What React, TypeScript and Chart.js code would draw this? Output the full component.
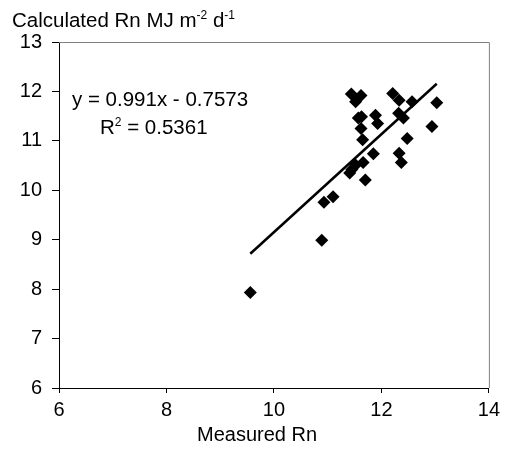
import React, { useEffect, useRef } from "react";
import { Chart, registerables } from "chart.js";

Chart.register(...registerables);

// Measured Rn (x) and calculated Rn (y), MJ m-2 d-1
const measuredRn = [
  9.56, 10.89, 10.93, 11.1, 11.41, 11.45, 11.52, 11.66, 11.7, 11.85,
  12.33, 12.37, 11.44, 11.62, 11.52, 12.21, 12.33, 12.57, 13.03, 11.57,
  11.63, 11.62, 11.65, 11.89, 11.93, 12.32, 12.41, 12.94, 12.48,
];
const calculatedRn = [
  7.93, 8.99, 9.76, 9.87, 10.35, 10.42, 10.51, 10.56, 10.21, 10.74,
  10.75, 10.56, 11.95, 11.92, 11.79, 11.96, 11.82, 11.79, 11.77, 11.46,
  11.49, 11.25, 11.02, 11.52, 11.35, 11.56, 11.46, 11.29, 11.05,
];

// Trend line as printed on the chart
const trendSlope = 0.991;
const trendIntercept = -0.7573;
const equationText = "y = 0.991x - 0.7573";
const r2Value = "0.5361";

const xRange = [6, 14];
const yRange = [6, 13];
const xStep = 2;
const yStep = 1;

const xTitle = "Measured Rn";
const yTitleRuns = [
  { t: "Calculated Rn MJ m", sup: false },
  { t: "-2", sup: true },
  { t: " d", sup: false },
  { t: "-1", sup: true },
];

const FONT = '"Liberation Sans", Arial, sans-serif';

export default function App() {
  const ref = useRef<HTMLCanvasElement | null>(null);

  useEffect(() => {
    if (!ref.current) return;
    const points = measuredRn.map((x, i) => ({ x, y: calculatedRn[i] }));
    const xMin = Math.min(...measuredRn);
    const xMax = Math.max(...measuredRn);
    const trend = [
      { x: xMin, y: trendSlope * xMin + trendIntercept },
      { x: xMax, y: trendSlope * xMax + trendIntercept },
    ];

    const framePlugin = {
      id: "frame",
      beforeDatasetsDraw(chart: any) {
        const { ctx, chartArea: a } = chart;
        ctx.save();
        ctx.strokeStyle = "#808080";
        ctx.lineWidth = 1;
        ctx.beginPath();
        ctx.moveTo(a.left, a.top + 0.5);
        ctx.lineTo(a.right + 0.5, a.top + 0.5);
        ctx.lineTo(a.right + 0.5, a.bottom);
        ctx.stroke();
        ctx.restore();
      },
    };

    const textPlugin = {
      id: "texts",
      afterDraw(chart: any) {
        const ctx = chart.ctx;
        ctx.save();
        ctx.fillStyle = "#000";
        ctx.textBaseline = "alphabetic";
        ctx.textAlign = "left";
        const drawRuns = (x: number, y: number, runs: { t: string; sup: boolean }[], size: number) => {
          for (const r of runs) {
            ctx.font = `${r.sup ? Math.round(size * 0.6) : size}px ${FONT}`;
            ctx.fillText(r.t, x, r.sup ? y - size * 0.38 : y);
            x += ctx.measureText(r.t).width;
          }
        };
        drawRuns(12, 27, yTitleRuns, 20.5);
        ctx.font = `20px ${FONT}`;
        ctx.textAlign = "center";
        ctx.fillText(xTitle, 257, 441);
        ctx.textAlign = "left";
        drawRuns(72, 106, [{ t: equationText, sup: false }], 20.5);
        drawRuns(100, 134, [
          { t: "R", sup: false },
          { t: "2", sup: true },
          { t: " = " + r2Value, sup: false },
        ], 20.5);
        ctx.restore();
      },
    };

    const chart = new Chart(ref.current, {
      type: "scatter",
      data: {
        datasets: [
          {
            data: points,
            pointStyle: "rectRot",
            pointRadius: 6.5,
            pointHoverRadius: 6.5,
            backgroundColor: "#000",
            borderColor: "#000",
            borderWidth: 0,
          },
          {
            data: trend,
            showLine: true,
            pointRadius: 0,
            borderColor: "#000",
            borderWidth: 2.5,
            fill: false,
          },
        ],
      },
      options: {
        animation: false,
        responsive: false,
        layout: { padding: { top: 42, right: 13, left: 0, bottom: 0 } },
        plugins: { legend: { display: false }, tooltip: { enabled: false }, title: { display: false } },
        scales: {
          x: {
            type: "linear",
            min: xRange[0],
            max: xRange[1],
            ticks: { stepSize: xStep, color: "#000", font: { size: 20, family: FONT }, padding: 5 },
            grid: { display: true, drawOnChartArea: false, drawTicks: true, tickLength: 5, color: "#000" },
            border: { display: true, color: "#000", width: 1 },
            afterFit: (s: any) => { s.height = 65; },
          },
          y: {
            type: "linear",
            min: yRange[0],
            max: yRange[1],
            ticks: { stepSize: yStep, color: "#000", font: { size: 20, family: FONT }, padding: 10 },
            grid: { display: true, drawOnChartArea: false, drawTicks: true, tickLength: 7, color: "#000" },
            border: { display: true, color: "#000", width: 1 },
            afterFit: (s: any) => { s.width = 59; },
          },
        },
      },
      plugins: [framePlugin, textPlugin],
    });
    return () => chart.destroy();
  }, []);

  return (
    <div style={{ position: "absolute", left: 0, top: 0, width: 505, height: 453, background: "#fff" }}>
      <canvas ref={ref} width={505} height={453} />
    </div>
  );
}
